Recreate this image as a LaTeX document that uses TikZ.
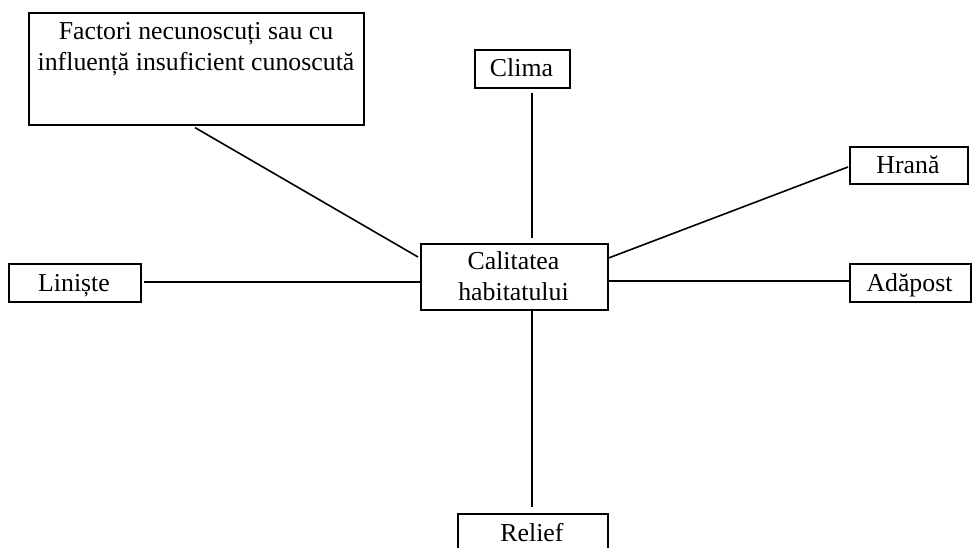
\documentclass[tikz,border=0pt]{standalone}
\usepackage{fontspec}
\setmainfont{Liberation Serif}
\usetikzlibrary{calc}
\begin{document}
\begin{tikzpicture}[x=1pt,y=-1pt,
  box/.style={draw,line width=1.6pt,inner sep=0pt,anchor=north west},
  lbl/.style={inner sep=0pt,align=center,font=\fontsize{25.8}{31}\selectfont},
  link/.style={line width=1.6pt}]
\useasboundingbox (0,0) rectangle (972,548);
\clip (0,0) rectangle (972,548);
% boxes
\node[box,minimum width=335pt,minimum height=112pt] (fac) at (28,12) {};
\node[box,minimum width=95pt,minimum height=38pt] (clima) at (474,49) {};
\node[box,minimum width=187pt,minimum height=66pt] (cal) at (420,243) {};
\node[box,minimum width=118pt,minimum height=37pt] (hrana) at (849,146) {};
\node[box,minimum width=121pt,minimum height=38pt] (adap) at (849,263) {};
\node[box,minimum width=132pt,minimum height=38pt] (lin) at (8,263) {};
\node[box,minimum width=150pt,minimum height=60pt] (rel) at (457,513) {};
% texts (base = baseline of the last line)
\node[lbl,anchor=base] (tfac) at (196,71) {Factori necunoscuți sau cu\\influență insuficient cunoscută};
\node[lbl,anchor=base] (tclima) at (521.5,77) {Clima};
\node[lbl,anchor=base] (tcal) at (513.5,300) {Calitatea\\habitatului};
\node[lbl,anchor=base] (thrana) at (908,174) {Hrană};
\node[lbl,anchor=base] (tadap) at (909.5,291) {Adăpost};
\node[lbl,anchor=base] (tlin) at (74,291) {Liniște};
\node[lbl,anchor=base] (trel) at (532,541) {Relief};
% connectors
\draw[link] ($(fac.south west)+(167,2)$) -- ($(cal.north west)+(-2,14)$);
\draw[link] ($(clima.south west)+(58,4)$) -- ($(cal.north west)+(112,-5)$);
\draw[link] ($(hrana.north west)+(-1,21)$) -- ($(cal.north east)+(0,15)$);
\draw[link] ($(adap.north west)+(0,18)$) -- ($(cal.north east)+(0,38)$);
\draw[link] ($(lin.north east)+(2,19)$) -- ($(cal.north west)+(0,39)$);
\draw[link] ($(cal.south west)+(112,0)$) -- ($(rel.north west)+(75,-6)$);
\end{tikzpicture}
\end{document}
